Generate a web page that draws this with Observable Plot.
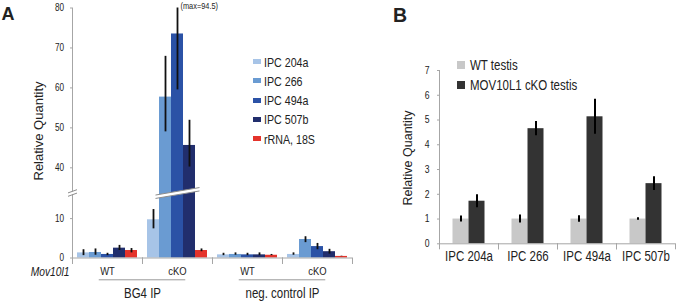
<!DOCTYPE html>
<html>
<head>
<meta charset="utf-8">
<script src="https://cdn.jsdelivr.net/npm/d3@7"></script>
<script src="https://cdn.jsdelivr.net/npm/@observablehq/plot@0.6"></script>
<style>
  body { margin: 0; background: #fff; }
  #fig { position: relative; width: 676px; height: 301px; background: #fff; overflow: hidden; color: #222; }
  .lbl { position: absolute; white-space: nowrap; line-height: 1; }
</style>
</head>
<body>
<div id="fig">
  <div id="panelA" style="position:absolute;left:0;top:0"></div>
  <div id="panelB" style="position:absolute;left:380px;top:0"></div>
</div>
<script>
// ---------------- DATA: panel A (BG4 IP / negative control IP) ----------------
const groupsA = ["BG4 IP|WT", "BG4 IP|cKO", "neg. control IP|WT", "neg. control IP|cKO"];
const seriesA = ["IPC 204a", "IPC 266", "IPC 494a", "IPC 507b", "rRNA, 18S"];
const colorsA = ["#a7c4e7", "#6a9bd2", "#2b52a6", "#212e6d", "#e4332b"];

const meanBG4WT = [1.3, 1.4, 0.9, 2.5, 1.9];
const lowBG4WT  = [0.6, 0.7, 0.6, 1.9, 1.3];
const highBG4WT = [2.1, 2.3, 1.2, 3.2, 2.4];

const meanBG4KO = [9.7, 57.7, 73.5, 45.6, 1.9];
const lowBG4KO  = [7.4, 49.0, 59.5, 40.2, 1.6];
const highBG4KO = [12.3, 67.9, 94.5, 51.9, 2.3];

const meanNegWT = [0.8, 0.9, 0.8, 0.8, 0.7];
const lowNegWT  = [0.6, 0.7, 0.6, 0.6, 0.6];
const highNegWT = [1.2, 1.3, 1.2, 1.3, 0.9];

const meanNegKO = [0.9, 4.7, 2.9, 1.6, 0.4];
const lowNegKO  = [0.7, 3.9, 2.1, 1.0, 0.35];
const highNegKO = [1.3, 5.4, 3.7, 2.2, 0.45];

const yTicksA = [0, 10, 40, 50, 60, 70, 80];
const yBreakA = [16.5, 33.7];   // axis break: lower segment ends, upper segment starts
const yMaxA = 80;
const pairLabelsA = ["BG4 IP", "neg. control IP"];
const factorLabelA = "Mov10l1";

// ---------------- DATA: panel B (testis) ----------------
const targetsB = ["IPC 204a", "IPC 266", "IPC 494a", "IPC 507b"];
const conditionsB = ["WT testis", "MOV10L1 cKO testis"];
const colorsB = ["#c8c8c8", "#333333"];
const meanWT = [1.0, 1.0, 1.0, 1.0];
const errWT  = [0.12, 0.16, 0.13, 0.05];
const meanKO = [1.72, 4.65, 5.13, 2.43];
const errKO  = [0.26, 0.29, 0.71, 0.28];
const yTicksB = [0, 1, 2, 3, 4, 5, 6, 7];

// ---------------- build tables ----------------
const tableA = [
  [meanBG4WT, lowBG4WT, highBG4WT],
  [meanBG4KO, lowBG4KO, highBG4KO],
  [meanNegWT, lowNegWT, highNegWT],
  [meanNegKO, lowNegKO, highNegKO]
];
const rowsA = [];
groupsA.forEach((g, gi) => seriesA.forEach((s, si) => rowsA.push({
  group: g, series: s, value: tableA[gi][0][si], lo: tableA[gi][1][si], hi: tableA[gi][2][si]
})));
const rowsB = [];
targetsB.forEach((t, i) => {
  rowsB.push({target: t, cond: conditionsB[0], value: meanWT[i], lo: meanWT[i] - errWT[i], hi: meanWT[i] + errWT[i]});
  rowsB.push({target: t, cond: conditionsB[1], value: meanKO[i], lo: meanKO[i] - errKO[i], hi: meanKO[i] + errKO[i]});
});
const clipped = rowsA.filter(d => d.hi > yMaxA);

const SANS = "'Liberation Sans', Arial, sans-serif";
const CONDENSE = 0.82;   // the figure's type is a narrow (condensed) sans
const AX = "#a6a6a6";
const TXT = "#222";

// slanted axis-break symbol (two parallel slanted lines, white between)
function slantBreak(w, s, h, mode) {
  return {draw(ctx) {
    const yl = -s * w;
    if (mode === "fill") {
      ctx.moveTo(-w, -h + yl); ctx.lineTo(w, -h - yl); ctx.lineTo(w, h - yl); ctx.lineTo(-w, h + yl); ctx.closePath();
    } else {
      ctx.moveTo(-w, -h + yl); ctx.lineTo(w, -h - yl);
      ctx.moveTo(-w, h + yl); ctx.lineTo(w, h - yl);
    }
  }};
}
function condense(svg, s) {
  svg.querySelectorAll("text").forEach(t => {
    const tr = t.getAttribute("transform");
    if (tr) t.setAttribute("transform", tr + ` scale(${s},1)`);
    else {
      const x = +t.getAttribute("x") || 0, y = +t.getAttribute("y") || 0;
      t.removeAttribute("x"); t.removeAttribute("y");
      t.setAttribute("transform", `translate(${x},${y}) scale(${s},1)`);
    }
  });
}

// ---------------- Panel A ----------------
const firstA = () => groupsA[0];
const plotA = Plot.plot({
  width: 380, height: 301,
  marginLeft: 71, marginRight: 28, marginTop: 7.5, marginBottom: 43.5,
  style: {fontFamily: SANS, fontSize: "10px", color: TXT, background: "transparent", overflow: "visible"},
  fx: {domain: groupsA, padding: 0, label: null},
  x: {domain: seriesA, paddingInner: 0, paddingOuter: 0.38, axis: null},
  y: {type: "linear", domain: [0, yBreakA[0], yBreakA[1], yMaxA], range: [257.5, 192.5, 192.5, 7.5], clamp: true},
  color: {domain: seriesA, range: colorsA},
  marks: [
    Plot.barY(rowsA, {fx: "group", x: "series", y: "value", fill: "series"}),
    Plot.ruleX(rowsA, {fx: "group", x: "series", y1: "lo", y2: "hi", stroke: "#111", strokeWidth: 1.8}),
    // break across the tall bars
    Plot.dot([yBreakA[0]], {fx: () => groupsA[1], x: () => seriesA[2], y: d => d, symbol: slantBreak(22, -0.17, 1.7, "fill"), fill: "white", stroke: "none"}),
    Plot.dot([yBreakA[0]], {fx: () => groupsA[1], x: () => seriesA[2], y: d => d, symbol: slantBreak(22, -0.17, 1.7, "line"), fill: "none", stroke: "#8c8c8c", strokeWidth: 1}),
    // axes lines
    Plot.ruleY([0], {stroke: AX}),
    Plot.frame({anchor: "left", insetTop: 250, insetBottom: -5.5, stroke: AX}),
    Plot.frame({anchor: "right", insetTop: 250, insetBottom: -5.5, stroke: AX}),
    Plot.frame({anchor: "left", fx: firstA, stroke: AX}),
    Plot.dot([yBreakA[0]], {fx: firstA, y: d => d, frameAnchor: "left", symbol: slantBreak(4.5, -0.36, 1.7, "fill"), fill: "white", stroke: "none"}),
    Plot.dot([yBreakA[0]], {fx: firstA, y: d => d, frameAnchor: "left", symbol: slantBreak(4.5, -0.36, 1.7, "line"), fill: "none", stroke: "#8c8c8c", strokeWidth: 1}),
    Plot.axisY({ticks: yTicksA, tickFormat: d => String(d), tickSize: 2, tickPadding: 6.5, fontSize: 10, stroke: AX, fill: TXT, label: null}),
    Plot.axisFx({anchor: "bottom", tickSize: 0, tickPadding: 9.3, fontSize: 11.5, fill: TXT, label: null, tickFormat: g => g.split("|")[1]}),
    // clipped maximum note
    Plot.text(clipped, {fx: "group", x: "series", y: "hi", text: d => `(max=${d.hi})`, dx: 3, dy: -2, textAnchor: "start", lineAnchor: "middle", fontSize: 9, fill: TXT}),
    // factor name and IP labels below
    Plot.text([factorLabelA], {fx: firstA, text: d => d, frameAnchor: "bottom-left", dx: -3, dy: 13.5, textAnchor: "end", lineAnchor: "middle", fontSize: 12.5, fontStyle: "italic", fill: TXT}),
    Plot.text(pairLabelsA, {fx: (d, i) => groupsA[2 * i], text: d => d, frameAnchor: "bottom-right", dy: 35.2, textAnchor: "middle", lineAnchor: "middle", fontSize: 14, fill: TXT}),
    Plot.ruleY(pairLabelsA, {fx: (d, i) => groupsA[2 * i], y: () => 0, dy: 21.8, insetLeft: 26.75, stroke: "#999"}),
    Plot.ruleY(pairLabelsA, {fx: (d, i) => groupsA[2 * i + 1], y: () => 0, dy: 21.8, insetRight: 26.75, stroke: "#999"})
  ]
});
condense(plotA, CONDENSE);
document.getElementById("panelA").appendChild(plotA);

// ---------------- Panel B ----------------
const firstB = () => targetsB[0];
const plotB = Plot.plot({
  width: 296, height: 301,
  marginLeft: 57.5, marginRight: 0, marginTop: 70, marginBottom: 57.7,
  style: {fontFamily: SANS, fontSize: "10px", color: TXT, background: "transparent", overflow: "visible"},
  fx: {domain: targetsB, padding: 0, label: null},
  x: {domain: conditionsB, paddingInner: 0, paddingOuter: 0.75, axis: null},
  y: {domain: [0, 7]},
  color: {domain: conditionsB, range: colorsB},
  marks: [
    Plot.barY(rowsB, {fx: "target", x: "cond", y: "value", fill: "cond"}),
    Plot.ruleX(rowsB, {fx: "target", x: "cond", y1: "lo", y2: "hi", stroke: "#000", strokeWidth: 2}),
    Plot.ruleY([0], {stroke: AX}),
    Plot.frame({anchor: "left", insetTop: 173.3, insetBottom: -5, stroke: AX}),
    Plot.frame({anchor: "right", insetTop: 173.3, insetBottom: -5, stroke: AX}),
    Plot.frame({anchor: "left", fx: firstB, stroke: AX}),
    Plot.axisY({ticks: yTicksB, tickFormat: d => String(d), tickSize: 2, tickPadding: 8, fontSize: 10.5, stroke: AX, fill: TXT, label: null}),
    Plot.axisFx({anchor: "bottom", tickSize: 0, tickPadding: 7.5, fontSize: 14, fill: TXT, label: null})
  ]
});
condense(plotB, CONDENSE);
document.getElementById("panelB").appendChild(plotB);

// ---------------- HTML labels & legends ----------------
const fig = document.getElementById("fig");
function label(text, cx, cy, fs, opts = {}) {
  const d = document.createElement("div");
  d.className = "lbl";
  d.textContent = text;
  d.style.fontSize = fs + "px";
  d.style.fontFamily = SANS;
  if (opts.weight) d.style.fontWeight = opts.weight;
  d.style.left = cx + "px";
  d.style.top = cy + "px";
  const sx = opts.condense === false ? 1 : CONDENSE;
  if (opts.rotate) {
    d.style.transform = `translate(-50%,-50%) rotate(${opts.rotate}deg)`;
  } else {
    const anchor = opts.anchor || "start";
    const tx = anchor === "middle" ? "-50%" : anchor === "end" ? "-100%" : "0";
    d.style.transformOrigin = anchor === "middle" ? "center center" : anchor === "end" ? "right center" : "left center";
    d.style.transform = `translate(${tx},-50%) scaleX(${sx})`;
  }
  fig.appendChild(d);
  return d;
}
function swatch(color, x, cy, w, h) {
  const d = document.createElement("div");
  d.style.cssText = `position:absolute;left:${x}px;top:${cy - h / 2}px;width:${w}px;height:${h}px;background:${color}`;
  fig.appendChild(d);
}
label("A", 1.5, 13.6, 18, {weight: "bold", condense: false});
label("B", 393, 16.3, 19.5, {weight: "bold", condense: false});
label("Relative Quantity", 37.5, 131, 13, {rotate: -90});
label("Relative Quantity", 407.5, 157.5, 12.5, {rotate: -90});

const legendRowsA = [61.7, 80.9, 100.1, 119.3, 138.5];
seriesA.forEach((s, i) => {
  swatch(colorsA[i], 252.5, legendRowsA[i], 8.7, 5);
  label(s, 264.3, legendRowsA[i], 13);
});
const legendRowsB = [65, 85];
conditionsB.forEach((c, i) => {
  swatch(colorsB[i], 457.3, legendRowsB[i], 7.8, 8.6);
  label(c, 469.5, legendRowsB[i], 14);
});
</script>
</body>
</html>
